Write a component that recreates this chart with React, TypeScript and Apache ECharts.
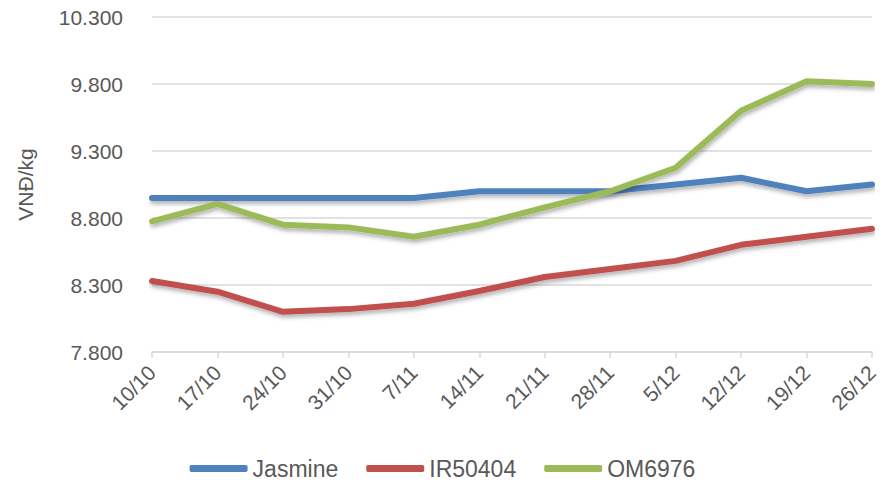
import React, { useEffect, useRef } from "react";
import * as echarts from "echarts";

const categories = ["10/10", "17/10", "24/10", "31/10", "7/11", "14/11", "21/11", "28/11", "5/12", "12/12", "19/12", "26/12"];
const jasmine = [8950, 8950, 8950, 8950, 8950, 9000, 9000, 9000, 9050, 9100, 9000, 9050];
const ir50404 = [8330, 8250, 8100, 8120, 8160, 8255, 8360, 8420, 8480, 8600, 8660, 8720];
const om6976 = [8775, 8905, 8750, 8730, 8660, 8750, 8880, 9000, 9175, 9600, 9820, 9800];
const seriesNames = ["Jasmine", "IR50404", "OM6976"];
const seriesColors = ["#4f81bd", "#c0504d", "#9bbb59"];

const fmt = (v: number) => {
  const s = String(Math.round(v));
  return s.replace(/\B(?=(\d{3})+(?!\d))/g, ".");
};

export default function App() {
  const ref = useRef<HTMLDivElement>(null);
  useEffect(() => {
    if (!ref.current) return;
    const chart = echarts.init(ref.current, null, { renderer: "svg" });
    const font = "Liberation Sans, Arial, sans-serif";
    const data = [jasmine, ir50404, om6976];
    chart.setOption({
      animation: false,
      textStyle: { fontFamily: font },
      grid: { left: 152, right: 13, top: 17, bottom: 130, containLabel: false },
      legend: {
        bottom: -3,
        left: "center",
        icon: "roundRect",
        itemWidth: 58,
        itemHeight: 7,
        itemGap: 28,
        textStyle: { color: "#595959", fontSize: 23, fontFamily: font },
        data: seriesNames,
      },
      xAxis: {
        type: "category",
        data: categories,
        boundaryGap: false,
        axisLine: { lineStyle: { color: "#d9d9d9", width: 1.5 } },
        axisTick: { show: true, length: 6, lineStyle: { color: "#d9d9d9", width: 1.5 } },
        axisLabel: { color: "#595959", fontSize: 21, rotate: 45, margin: 17, fontFamily: font },
        splitLine: { show: false },
      },
      yAxis: {
        type: "value",
        min: 7800,
        max: 10300,
        interval: 500,
        name: "VNĐ/kg",
        nameLocation: "middle",
        nameGap: 116,
        nameRotate: 90,
        nameTextStyle: { color: "#595959", fontSize: 21, fontFamily: font },
        axisLine: { show: false },
        axisTick: { show: false },
        axisLabel: { color: "#595959", fontSize: 21, margin: 29, formatter: fmt, fontFamily: font },
        splitLine: { lineStyle: { color: "#d9d9d9", width: 1.5 } },
      },
      series: data.map((d, i) => ({
        name: seriesNames[i],
        type: "line",
        data: d,
        symbol: "none",
        color: seriesColors[i],
        lineStyle: {
          color: seriesColors[i],
          width: 6,
          cap: "round",
          join: "round",
          shadowColor: "rgba(0,0,0,0.3)",
          shadowBlur: 4,
          shadowOffsetX: 1,
          shadowOffsetY: 3,
        },
      })),
    });
    return () => chart.dispose();
  }, []);
  return <div ref={ref} style={{ width: 885, height: 482, position: "absolute", left: 0, top: 0, background: "#fff" }} />;
}
